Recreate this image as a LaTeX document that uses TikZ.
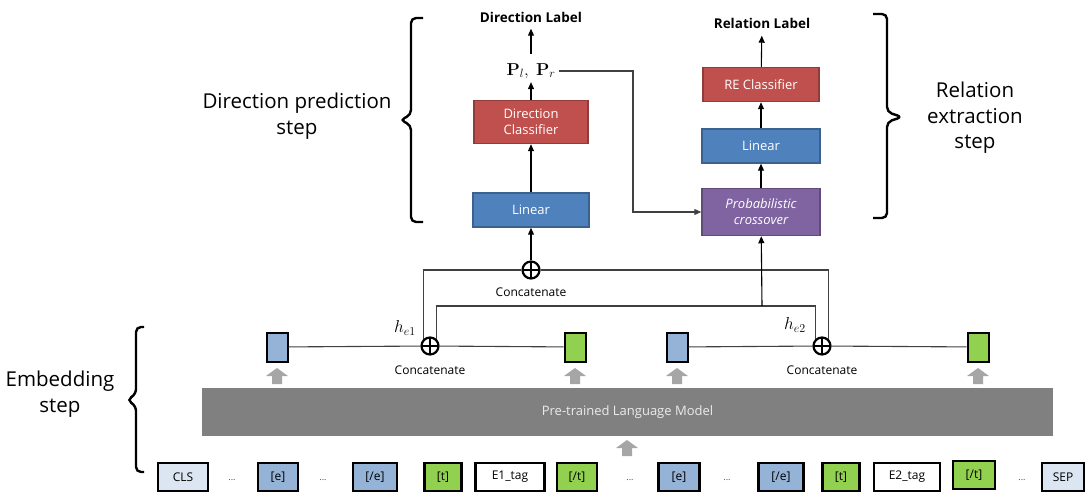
\documentclass[tikz,border=0pt]{standalone}
\usepackage{amsmath,amssymb}
\usepackage[no-math]{fontspec}
\setmainfont{Open Sans}
\usepackage{xcolor}
\usetikzlibrary{arrows.meta,positioning}
\definecolor{clsred}{HTML}{C0504D}
\definecolor{linblue}{HTML}{4F81BD}
\definecolor{mixpurple}{HTML}{8064A2}
\definecolor{toklight}{HTML}{DCE6F2}
\definecolor{tokblue}{HTML}{95B3D7}
\definecolor{tokgreen}{HTML}{92D050}
\definecolor{plmgrey}{HTML}{808080}
\definecolor{upgrey}{HTML}{A6A6A6}
\definecolor{wiregrey}{HTML}{404040}

\begin{document}
\begin{tikzpicture}[x=1pt,y=-1pt,
  blk/.style={draw=#1!75!black,fill=#1,line width=1.5pt,text=white,minimum width=116pt,minimum height=34pt,align=center,inner sep=2pt,font=\fontsize{13}{16}\selectfont},
  lbl/.style={font=\fontsize{13.5}{15}\selectfont\bfseries},
  stagetxt/.style={align=center,font=\fontsize{20.5}{25.5}\selectfont},
  note/.style={font=\fontsize{12}{14}\selectfont,inner sep=2pt},
  emb/.style={draw,line width=2pt,minimum width=21pt,minimum height=29pt,inner sep=0pt},
  tok/.style={draw,line width=2.2pt,minimum height=28pt,inner sep=1pt,font=\fontsize{12}{14}\selectfont},
  dots/.style={font=\fontsize{9}{10}\selectfont,text=black!70},
  oplus/.style={circle,draw,line width=2.2pt,minimum size=17pt,inner sep=0pt,
    path picture={\draw[line width=2.2pt] (path picture bounding box.north) -- (path picture bounding box.south)
      (path picture bounding box.west) -- (path picture bounding box.east);}},
  gup/.pic={\fill[upgrey] (-5,8) -- (-5,0) -- (-11,0) -- (0,-8) -- (11,0) -- (5,0) -- (5,8) -- cycle;},
  ln/.style={draw=wiregrey,line width=1.1pt},
  arr/.style={-{Triangle[length=7pt,width=6pt]},line width=1.1pt},
  brk/.style={line width=2.4pt,rounded corners=5pt}
]
\useasboundingbox (0,0) rectangle (1086,494);

% direction prediction column
\node[blk=linblue] (lin1) at (531,210) {Linear};
\node[blk=clsred,minimum width=114pt,minimum height=43pt,above=48pt of lin1] (dircls) {Direction\\Classifier};
\node[font=\fontsize{17}{18}\selectfont] (probs) at (531,71) {$\mathbf{P}_l,\ \mathbf{P}_r$};
\node[lbl] (dirlab) at (531,17) {Direction Label};

% relation extraction column
\node[blk=mixpurple,minimum width=118pt,minimum height=47pt,font=\fontsize{13}{16}\selectfont\itshape] (cross) at (761,212) {Probabilistic\\crossover};
\node[blk=linblue,minimum width=118pt,above=24pt of cross] (lin2) {Linear};
\node[blk=clsred,above=26pt of lin2] (recls) {RE Classifier};
\node[lbl] (rellab) at (762,23) {Relation Label};

% concatenations
\node[oplus] (cat0) at (531,270) {};
\node[oplus] (cat1) at (430,346) {};
\node[oplus] (cat2) at (822,346) {};
\node[note,below=6pt of cat0] (ct0) {Concatenate};
\node[note,below=8pt of cat1] (ct1) {Concatenate};
\node[note,below=8pt of cat2] (ct2) {Concatenate};
\node[font=\fontsize{17}{17}\selectfont] (he1) at (405,328) {$h_{e1}$};
\node[font=\fontsize{17}{17}\selectfont] (he2) at (795,325) {$h_{e2}$};
\coordinate (mix) at (762,306);
\coordinate (turn) at (633,212);

% entity embeddings
\node[emb,fill=tokblue] (emb1) at (277,347) {};
\node[emb,fill=tokgreen] (emb2) at (575,347) {};
\node[emb,fill=tokblue] (emb3) at (677,347) {};
\node[emb,fill=tokgreen] (emb4) at (978,347) {};
\pic at (277,376) {gup};
\pic at (575,376) {gup};
\pic at (677,376) {gup};
\pic at (978,376) {gup};

% language model
\node[fill=plmgrey,minimum width=851pt,minimum height=48pt,text=white!92!black,font=\fontsize{13}{16}\selectfont] (plm) at (627.5,412) {Pre-trained Language Model};
\pic at (627,448) {gup};

% input tokens
\node[tok,fill=toklight,minimum width=50pt] (cls) at (183,477) {CLS};
\node[dots] (d1) at (232,480) {...};
\node[tok,fill=tokblue,minimum width=40pt] (e1) at (278,477) {[e]};
\node[dots] (d2) at (323,480) {...};
\node[tok,fill=tokblue,minimum width=44pt] (ee1) at (375,477) {[/e]};
\node[tok,fill=tokgreen,minimum width=37pt] (t1) at (443,477) {[t]};
\node[tok,fill=white,minimum width=69pt] (tag1) at (510,477) {E1\_tag};
\node[tok,fill=tokgreen,minimum width=40pt] (tt1) at (577,477) {[/t]};
\node[dots] (d3) at (630,480) {...};
\node[tok,fill=tokblue,minimum width=41pt] (e2) at (679,477) {[e]};
\node[dots] (d4) at (727,480) {...};
\node[tok,fill=tokblue,minimum width=45pt] (ee2) at (781,477) {[/e]};
\node[tok,fill=tokgreen,minimum width=37pt] (t2) at (841,477) {[t]};
\node[tok,fill=white,minimum width=66pt] (tag2) at (907,477) {E2\_tag};
\node[tok,fill=tokgreen,minimum width=42pt] (tt2) at (974,475) {[/t]};
\node[dots] (d5) at (1022,480) {...};
\node[tok,fill=toklight,minimum width=42pt] (sep) at (1063,477) {SEP};

% wiring
\draw[ln] (emb1) -- (cat1) -- (emb2);
\draw[ln] (emb3) -- (cat2) -- (emb4);
\draw[ln] (cat1.130) |- (cat0) -| (cat2.50);
\draw[ln] (cat1.50) |- (mix) -| (cat2.130);
\draw[arr] (mix) -- (cross);
\draw[arr] (cat0) -- (lin1);
\draw[arr] (lin1) -- (dircls);
\draw[arr] (dircls) -- (probs);
\draw[arr,shorten <=6pt,shorten >=3pt] (probs) -- (dirlab);
\draw[arr,draw=wiregrey] (probs.east) -| (turn) -- (cross);
\draw[arr] (cross) -- (lin2);
\draw[arr] (lin2) -- (recls);
\draw[arr,shorten >=4pt] (recls) -- (rellab);

% stage brackets
\draw[brk] (423,18) -| (411,115) -- (400,120) -- (411,125) |- (423,222);
\draw[brk] (873,14) -| (887,112) -- (902,117) -- (887,122) |- (873,218);
\draw[brk] (144,327) -| (136,394) -- (127,400) -- (136,406) |- (144,472);
\node[stagetxt] (dstage) at (297,116) {Direction prediction\\step};
\node[stagetxt] (rstage) at (975,118) {Relation\\extraction\\step};
\node[stagetxt] (estage) at (60,394) {Embedding\\step};
\end{tikzpicture}
\end{document}
